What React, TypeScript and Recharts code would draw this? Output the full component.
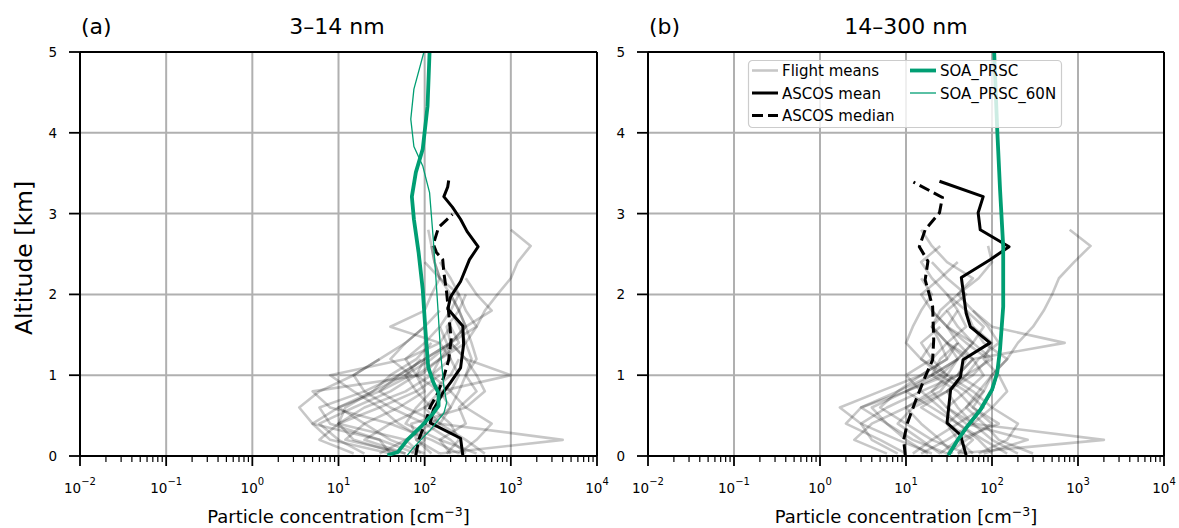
import React from 'react';
import { ScatterChart, Scatter, XAxis, YAxis, ReferenceLine, Legend } from 'recharts';

const FONT = '"DejaVu Sans", Verdana, sans-serif';
const GREEN = '#009e73';
const GRID = '#b0b0b0';

// log axis ticks
const X_MAJOR = [0.01, 0.1, 1, 10, 100, 1000, 10000];
const X_EXPONENTS = ['\u22122', '\u22121', '0', '1', '2', '3', '4'];
const X_MINOR_MULT = [2, 3, 4, 5, 6, 7, 8, 9];
const X_TICKS = [...X_MAJOR, ...X_MAJOR.slice(0, -1).flatMap((d) => X_MINOR_MULT.map((m) => m * d))];
const Y_TICKS = [0, 1, 2, 3, 4, 5];

// altitude levels (km) of the individual flight profiles
const FLIGHT_ALT = [0.03, 0.2, 0.4, 0.6, 0.8, 1.0, 1.2, 1.4, 1.6, 1.8, 2.0, 2.2, 2.4, 2.6, 2.8];

// (a) 3-14 nm, flight means [cm-3]
const FLIGHTS_A = [
  [250, 120, 40, 8, 5, 90, 150, 200, 180, 250, 300],
  [150, 4000, 150, 100, 200, 250, 200, 180, 150],
  [80, 30, 5, 3.5, 6, 15, 30],
  [200, 150, 300, 250, 400, 300, 350, 300, 400, 500, 700, 1000, 1200, 1700, 1000],
  [60, 20, 40, 100, 150, 1000, 300, 200],
  [120, 80, 150, 200, 250, 300, 400, 350, 300, 250, 200],
  [50, 15, 10, 20, 60, 120, 200, 150, 40, 100, 120, 150, 130, 120],
  [300, 200, 100, 40, 20, 15, 30, 60, 100],
  [90, 60, 10, 12, 25, 40, 80, 120],
  [180, 250, 200, 120, 80, 60, 120, 200, 300, 250, 200, 150, 130, 120, 110],
  [40, 30, 8, 6, 20, 50, 100],
  [400, 150, 60, 80, 120, 200, 250],
  [70, 100, 50, 30, 15, 8, 60, 150, 200],
  [150, 80, 70, 300, 500, 400, 300, 200],
  [20, 10, 6, 15, 40, 80, 150, 300, 250, 200],
  [500, 300, 150, 60, 30, 50, 100, 200, 400, 300, 250, 200, 150],
  [100, 40, 20, 10, 30, 70, 40, 60, 100, 150],
  [30, 60, 120, 200, 150, 80, 100, 200, 300, 600, 400, 300],
  [250, 400, 600, 300, 200, 120, 150, 250, 200],
  [60, 12, 20, 50, 100, 80, 60, 100, 150, 200, 250, 150, 100],
  [40, 8, 5, 10, 25, 60, 90],
  [15, 6, 10, 30, 80, 150],
];

// (b) 14-300 nm, flight means [cm-3]
const FLIGHTS_B = [
  [40, 2000, 60, 30, 50, 80, 60, 40],
  [20, 8, 3, 1.7, 5, 15, 30, 40],
  [60, 40, 30, 50, 80, 100, 150, 200, 300, 400, 500, 600, 900, 1400, 800],
  [30, 50, 100, 60, 80, 40, 60, 700, 100, 60],
  [10, 5, 2, 3, 10, 30, 20, 15, 25],
  [80, 260, 50, 30, 20, 40, 50, 30, 20, 25, 40, 60, 30, 20, 15],
  [25, 15, 8, 12, 30, 60, 90, 50, 30, 40],
  [100, 70, 40, 20, 10, 20, 40, 60, 80, 50, 30, 20, 15, 25],
  [15, 30, 60, 100, 150, 120, 80, 100, 60, 50],
  [50, 20, 10, 5, 8, 15, 30, 25, 20],
  [200, 100, 60, 40, 30, 50, 70, 120, 90, 60, 40, 70, 100, 90],
  [35, 25, 15, 10, 20, 30, 15, 10, 12, 15, 20, 15],
  [70, 150, 200, 100, 60, 30, 40, 30, 20, 30],
  [12, 20, 40, 80, 50, 25, 15, 20],
  [8, 4, 3, 6, 15, 40, 60, 30],
  [150, 80, 40, 25, 15, 10, 20, 30, 50, 40, 30],
  [40, 60, 30, 15, 30, 50, 100, 60, 40, 30, 50, 30, 20],
  [25, 40, 120, 60, 40, 20, 25, 40, 30, 20, 15, 25, 40],
  [300, 120, 80, 50, 70, 100, 150, 80, 60],
  [18, 10, 6, 4, 10, 25, 40, 60, 30, 20],
  [6, 2.5, 4, 10, 25, 35],
  [30, 12, 6, 3, 8, 20, 40],
];

// ASCOS mean / median
const MEAN_A_ALT = [0.01, 0.22, 0.41, 0.57, 0.78, 0.91, 1.09, 1.38, 1.61, 1.82, 1.97, 2.16, 2.43, 2.59, 2.78, 2.93, 3.08, 3.21, 3.33, 3.41];
const MEAN_A = [277, 261, 116, 126, 162, 200, 261, 283, 277, 186, 200, 261, 331, 417, 310, 261, 210, 167, 185, 190];
const MEDIAN_A_ALT = [0.01, 0.2, 0.41, 0.61, 0.78, 0.98, 1.19, 1.44, 1.77, 2.02, 2.27, 2.43, 2.52, 2.62, 2.83, 2.99];
const MEDIAN_A = [79, 85, 102, 116, 142, 167, 190, 203, 190, 180, 167, 162, 137, 126, 145, 210];

const MEAN_B_ALT = [0.01, 0.26, 0.41, 0.82, 0.98, 1.19, 1.4, 1.6, 1.77, 2.21, 2.43, 2.59, 2.8, 3.01, 3.21, 3.4];
const MEAN_B = [50, 43, 30, 33, 43, 46, 95, 56, 50, 44, 95, 158, 73, 69, 79, 24.5];
const MEDIAN_B_ALT = [0.01, 0.2, 0.41, 0.69, 0.98, 1.19, 1.44, 1.85, 2.18, 2.41, 2.59, 2.8, 3.01, 3.2, 3.39];
const MEDIAN_B = [9.8, 9.4, 10.4, 13, 16.7, 20.4, 21, 20.4, 16.7, 18, 14.3, 16.7, 24.5, 26.5, 12.2];

// model runs
const SOA_A_ALT = [0.01, 0.05, 0.2, 0.36, 0.53, 0.62, 0.78, 0.91, 1.1, 1.56, 2.06, 2.52, 2.93, 3.21, 3.51, 3.8, 4.33, 5.0];
const SOA_A = [37, 49, 63, 90, 126, 145, 145, 126, 110, 102, 95, 85, 75, 71, 79, 95, 108, 114];
const SOA60_A_ALT = [0.01, 0.11, 0.32, 0.53, 0.66, 0.86, 1.28, 1.85, 2.68, 3.26, 3.59, 3.83, 4.17, 4.54, 5.0];
const SOA60_A = [63, 75, 116, 167, 180, 167, 153, 142, 126, 114, 95, 75, 69, 75, 98];

const SOA_B_ALT = [0.01, 0.2, 0.36, 0.57, 0.82, 1.03, 1.32, 1.85, 2.59, 3.3, 4.04, 5.0];
const SOA_B = [31, 40, 51, 73, 100, 115, 124, 135, 135, 124, 115, 106];
const SOA60_B = [32, 41, 53, 76, 103, 117, 125, 134, 133, 123, 114, 105];

const LEGEND_ITEMS = [
  { name: 'Flight means', color: '#000', opacity: 0.22, width: 2.6, dash: undefined, col: 0, row: 0 },
  { name: 'ASCOS mean', color: '#000', opacity: 1, width: 3, dash: undefined, col: 0, row: 1 },
  { name: 'ASCOS median', color: '#000', opacity: 1, width: 3, dash: '11 5', col: 0, row: 2 },
  { name: 'SOA_PRSC', color: GREEN, opacity: 1, width: 3.8, dash: undefined, col: 1, row: 0 },
  { name: 'SOA_PRSC_60N', color: GREEN, opacity: 1, width: 1.3, dash: undefined, col: 1, row: 1 },
];

const toPoints = (xs: number[], ys: number[]) => xs.map((x, i) => ({ x, y: ys[i] }));

const NoPoint = () => <g />;

const LogTick = (props: any) => {
  const { x, y, payload } = props;
  const v = payload.value;
  const idx = X_MAJOR.findIndex((m) => Math.abs(m - v) / m < 1e-9);
  if (idx < 0) {
    return <line x1={x} x2={x} y1={y} y2={y + 6} stroke="#000" strokeWidth={1.2} />;
  }
  return (
    <g>
      <line x1={x} x2={x} y1={y} y2={y + 10} stroke="#000" strokeWidth={1.8} />
      <text x={x} y={y + 37} textAnchor="middle" fontSize={13.5} fontFamily={FONT} fill="#000">
        10
        <tspan dy={-8} fontSize={10}>
          {X_EXPONENTS[idx]}
        </tspan>
      </text>
    </g>
  );
};

const AltTick = (props: any) => {
  const { x, y, payload } = props;
  return (
    <g>
      <line x1={x - 11} x2={x} y1={y} y2={y} stroke="#000" strokeWidth={1.8} />
      <text x={x - 23} y={y + 5} textAnchor="end" fontSize={13.5} fontFamily={FONT} fill="#000">
        {payload.value}
      </text>
    </g>
  );
};

const XLabel = (props: any) => {
  const vb = props.viewBox;
  return (
    <text x={vb.x + vb.width / 2} y={523} textAnchor="middle" fontSize={18} fontFamily={FONT} fill="#000">
      Particle concentration [cm
      <tspan dy={-7} fontSize={12.5}>
        {'\u22123'}
      </tspan>
      <tspan dy={7}>]</tspan>
    </text>
  );
};

const LegendBox = () => (
  <svg width={314} height={68} style={{ display: 'block', overflow: 'visible' }}>
    <rect x={0.5} y={0.5} width={313} height={67} rx={4} fill="#fff" fillOpacity={0.8} stroke="#cccccc" strokeWidth={1.2} />
    {LEGEND_ITEMS.map((it) => {
      const x0 = it.col === 0 ? 4 : 162;
      const cy = 10.5 + it.row * 22.5;
      return (
        <g key={it.name}>
          <line
            x1={x0}
            x2={x0 + 26}
            y1={cy}
            y2={cy}
            stroke={it.color}
            strokeOpacity={it.opacity}
            strokeWidth={it.width}
            strokeDasharray={it.dash}
          />
          <text x={x0 + 30} y={cy + 5.5} fontSize={15} fontFamily={FONT} fill="#000">
            {it.name}
          </text>
        </g>
      );
    })}
  </svg>
);

type PanelProps = {
  flights: number[][];
  mean: { x: number; y: number }[];
  median: { x: number; y: number }[];
  soa: { x: number; y: number }[];
  soa60: { x: number; y: number }[];
  width: number;
  margin: { top: number; right: number; bottom: number; left: number };
  yAxisWidth: number;
  legend?: boolean;
};

const Panel = ({ flights, mean, median, soa, soa60, width, margin, yAxisWidth, legend }: PanelProps) => (
  <ScatterChart width={width} height={528} margin={margin} style={{ fontFamily: FONT }}>
    <XAxis
      type="number"
      dataKey="x"
      scale="log"
      domain={[0.01, 10000]}
      allowDataOverflow
      ticks={X_TICKS}
      interval={0}
      tick={<LogTick />}
      tickLine={false}
      tickSize={0}
      tickMargin={0}
      axisLine={{ stroke: '#000', strokeWidth: 2 }}
      height={40}
      label={<XLabel />}
    />
    <YAxis
      type="number"
      dataKey="y"
      domain={[0, 5]}
      allowDataOverflow
      ticks={Y_TICKS}
      interval={0}
      tick={<AltTick />}
      tickLine={false}
      tickSize={0}
      tickMargin={0}
      axisLine={{ stroke: '#000', strokeWidth: 2 }}
      width={yAxisWidth}
    />
    {X_MAJOR.slice(1, -1).map((v) => (
      <ReferenceLine key={'gx' + v} x={v} stroke={GRID} strokeWidth={2} zIndex={-100} />
    ))}
    {Y_TICKS.slice(1, -1).map((v) => (
      <ReferenceLine key={'gy' + v} y={v} stroke={GRID} strokeWidth={2} zIndex={-100} />
    ))}
    {flights.map((f, i) => (
      <Scatter
        key={'f' + i}
        data={toPoints(f, FLIGHT_ALT)}
        fill="none"
        line={{ stroke: '#000', strokeOpacity: 0.22, strokeWidth: 2.6, strokeLinejoin: 'round' }}
        lineType="joint"
        shape={NoPoint}
        legendType="none"
        isAnimationActive={false}
      />
    ))}
    <Scatter
      data={mean}
      fill="none"
      line={{ stroke: '#000', strokeWidth: 3, strokeLinejoin: 'round' }}
      lineType="joint"
      shape={NoPoint}
      legendType="none"
      isAnimationActive={false}
    />
    <Scatter
      data={median}
      fill="none"
      line={{ stroke: '#000', strokeWidth: 3, strokeDasharray: '11 5' }}
      lineType="joint"
      shape={NoPoint}
      legendType="none"
      isAnimationActive={false}
    />
    <Scatter
      data={soa}
      fill="none"
      line={{ stroke: GREEN, strokeWidth: 3.8, strokeLinejoin: 'round' }}
      lineType="joint"
      shape={NoPoint}
      legendType="none"
      isAnimationActive={false}
    />
    <Scatter
      data={soa60}
      fill="none"
      line={{ stroke: GREEN, strokeWidth: 1.3, strokeLinejoin: 'round' }}
      lineType="joint"
      shape={NoPoint}
      legendType="none"
      isAnimationActive={false}
    />
    <ReferenceLine y={5} stroke="#000" strokeWidth={2} zIndex={1500} />
    <ReferenceLine x={10000} stroke="#000" strokeWidth={2} zIndex={1500} />
    {legend && (
      <Legend
        content={<LegendBox />}
        layout="horizontal"
        verticalAlign="middle"
        align="center"
        wrapperStyle={{ left: 138, top: 60, width: 314, height: 68 }}
      />
    )}
  </ScatterChart>
);

export default function App() {
  return (
    <div style={{ position: 'absolute', left: 0, top: 0, width: 1179, height: 528, background: '#fff', fontFamily: FONT }}>
      <div style={{ position: 'absolute', left: 0, top: 0 }}>
        <Panel
          flights={FLIGHTS_A}
          mean={toPoints(MEAN_A, MEAN_A_ALT)}
          median={toPoints(MEDIAN_A, MEDIAN_A_ALT)}
          soa={toPoints(SOA_A, SOA_A_ALT)}
          soa60={toPoints(SOA60_A, SOA60_A_ALT)}
          width={610}
          margin={{ top: 52, right: 13, bottom: 32, left: 40 }}
          yAxisWidth={40}
        />
      </div>
      <div style={{ position: 'absolute', left: 610, top: 0 }}>
        <Panel
          flights={FLIGHTS_B}
          mean={toPoints(MEAN_B, MEAN_B_ALT)}
          median={toPoints(MEDIAN_B, MEDIAN_B_ALT)}
          soa={toPoints(SOA_B, SOA_B_ALT)}
          soa60={toPoints(SOA60_B, SOA_B_ALT)}
          width={569}
          margin={{ top: 52, right: 15, bottom: 32, left: 0 }}
          yAxisWidth={38}
          legend
        />
      </div>
      <svg width={1179} height={528} style={{ position: 'absolute', left: 0, top: 0, pointerEvents: 'none' }}>
        <text x={81} y={34} fontSize={22} fontFamily={FONT} fill="#000">(a)</text>
        <text x={337} y={34} fontSize={22} fontFamily={FONT} fill="#000" textAnchor="middle">3–14 nm</text>
        <text x={649} y={34} fontSize={22} fontFamily={FONT} fill="#000">(b)</text>
        <text x={906} y={34} fontSize={22} fontFamily={FONT} fill="#000" textAnchor="middle">14–300 nm</text>
        <text x={32} y={258} fontSize={23.5} fontFamily={FONT} fill="#000" textAnchor="middle" transform="rotate(-90 32 258)">
          Altitude [km]
        </text>
      </svg>
    </div>
  );
}
